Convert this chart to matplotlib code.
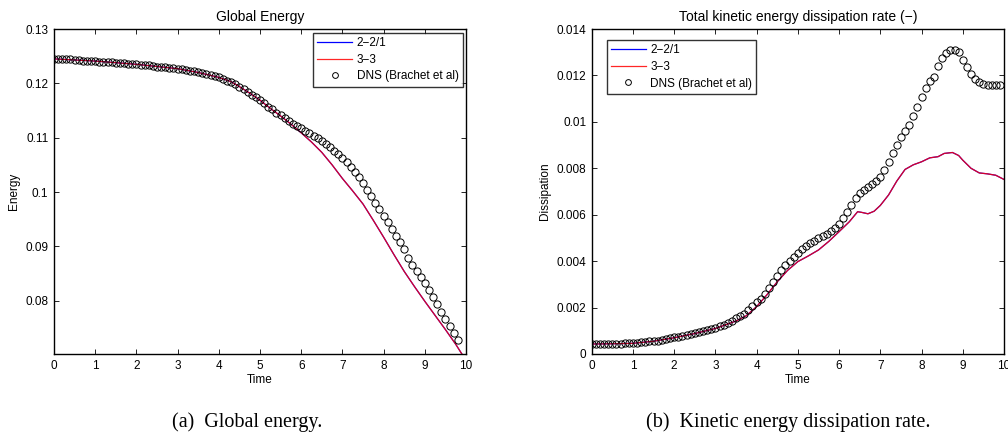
import numpy as np
import matplotlib
matplotlib.use("Agg")
import matplotlib.pyplot as plt

plt.rcParams['font.family'] = ['Liberation Sans', 'DejaVu Sans']

# ---------------- data: (a) global energy ----------------
dns_energy_t = np.round(np.arange(0, 9.85, 0.1), 2)
dns_energy = [
    0.1245, 0.1245, 0.1245, 0.1244, 0.1244, 0.1243, 0.1243, 0.1242, 0.1242, 0.1241,
    0.1241, 0.1240, 0.1240, 0.1239, 0.1239, 0.1238, 0.1238, 0.1237, 0.1236, 0.1236,
    0.1235, 0.1234, 0.1234, 0.1233, 0.1232, 0.1231, 0.1231, 0.1230, 0.1229, 0.1228,
    0.1227, 0.1226, 0.1224, 0.1223, 0.1222, 0.1220, 0.1219, 0.1217, 0.1215, 0.1213,
    0.1211, 0.1208, 0.1205, 0.1202, 0.1198, 0.1194, 0.1189, 0.1184, 0.1179, 0.1174,
    0.1169, 0.1163, 0.1157, 0.1152, 0.1146, 0.1141, 0.1136, 0.1131, 0.1126, 0.1122,
    0.1117, 0.1113, 0.1108, 0.1104, 0.1099, 0.1094, 0.1088, 0.1082, 0.1076, 0.1070,
    0.1063, 0.1055, 0.1046, 0.1037, 0.1027, 0.1016, 0.1004, 0.0992, 0.0980, 0.0968,
    0.0956, 0.0944, 0.0932, 0.0920, 0.0908, 0.0895, 0.0878, 0.0866, 0.0855, 0.0844,
    0.0833, 0.0820, 0.0807, 0.0794, 0.0780, 0.0766, 0.0753, 0.0740, 0.0727,
]
model_energy_t = [0, 0.5, 1, 1.5, 2, 2.5, 3, 3.5, 4, 4.3, 4.5, 4.75, 5, 5.25, 5.5,
                  5.75, 6, 6.25, 6.5, 6.75, 7, 7.25, 7.5, 7.75, 8, 8.25, 8.5, 8.75,
                  9, 9.25, 9.5, 9.75, 9.9]
energy_221 = [0.1245, 0.1243, 0.1241, 0.1238, 0.1235, 0.1231, 0.1227, 0.1220, 0.1211,
              0.1203, 0.1194, 0.1182, 0.1169, 0.1154, 0.1140, 0.1125, 0.1109, 0.1092,
              0.1073, 0.1050, 0.1025, 0.1002, 0.0978, 0.0948, 0.0917, 0.0885, 0.0854,
              0.0826, 0.0799, 0.0773, 0.0747, 0.0720, 0.0702]
energy_33 = list(energy_221)

# ---------------- data: (b) dissipation ----------------
dns_diss_t = np.round(np.arange(0, 9.95, 0.1), 2)
dns_diss = np.array([
    0.43, 0.42, 0.41, 0.42, 0.43, 0.44, 0.45, 0.45, 0.46, 0.46,
    0.47, 0.48, 0.50, 0.52, 0.54, 0.56, 0.58, 0.61, 0.64, 0.68,
    0.72, 0.75, 0.78, 0.82, 0.86, 0.90, 0.95, 0.99, 1.04, 1.09,
    1.14, 1.20, 1.26, 1.33, 1.41, 1.53, 1.63, 1.74, 1.88, 2.05,
    2.22, 2.38, 2.58, 2.85, 3.10, 3.38, 3.62, 3.84, 4.00, 4.20,
    4.36, 4.52, 4.66, 4.78, 4.88, 4.98, 5.08, 5.18, 5.30, 5.44,
    5.60, 5.86, 6.12, 6.42, 6.72, 6.95, 7.08, 7.20, 7.32, 7.45,
    7.62, 7.92, 8.25, 8.65, 9.00, 9.35, 9.60, 9.86, 10.25, 10.65,
    11.05, 11.45, 11.75, 11.95, 12.40, 12.75, 12.98, 13.08, 13.08, 13.02,
    12.68, 12.35, 12.08, 11.85, 11.70, 11.62, 11.60, 11.60, 11.60, 11.60,
]) * 1e-3
model_diss_t = [0, 0.5, 1, 1.5, 2, 2.5, 3, 3.5, 3.75, 4, 4.25, 4.5, 4.75, 5, 5.25,
                5.5, 5.75, 6, 6.25, 6.45, 6.55, 6.7, 6.85, 7, 7.2, 7.4, 7.6, 7.8,
                8, 8.2, 8.4, 8.55, 8.75, 8.9, 9, 9.2, 9.4, 9.6, 9.8, 10]
diss_221 = np.array([0.43, 0.44, 0.46, 0.55, 0.70, 0.88, 1.10, 1.42, 1.65, 2.04,
                     2.55, 3.11, 3.60, 3.98, 4.22, 4.48, 4.85, 5.27, 5.70, 6.13,
                     6.10, 6.04, 6.15, 6.40, 6.85, 7.45, 7.95, 8.15, 8.28, 8.45,
                     8.50, 8.64, 8.68, 8.55, 8.35, 8.00, 7.80, 7.76, 7.70, 7.52]) * 1e-3
diss_33 = diss_221.copy()

labels = ['2\u22122/1', '3\u22123', 'DNS (Brachet et al)']

# ---------------- figure ----------------
W, H = 1008, 437
FS = 8.5
fig = plt.figure(figsize=(W / 100, H / 100), dpi=100)

def px_axes(l, t, r, b):
    return fig.add_axes([l / W, 1 - b / H, (r - l) / W, (b - t) / H])

def style(ax):
    ax.tick_params(direction='in', length=3.5, width=0.6, labelsize=FS,
                   top=True, right=True, pad=4)
    for s in ax.spines.values():
        s.set_linewidth(1.0)
    ax.set_xlim(0, 10)
    ax.set_xticks(range(0, 11))

def make_legend(ax, loc, anchor):
    leg = ax.legend(loc=loc, bbox_to_anchor=anchor, fontsize=FS, handlelength=3.0,
                    handletextpad=0.35, labelspacing=0.4, borderpad=0.35,
                    borderaxespad=0.0, frameon=True, fancybox=False, markerscale=0.8)
    leg.get_frame().set_edgecolor('black')
    leg.get_frame().set_linewidth(1.0)
    return leg

ax1 = px_axes(54, 29, 466, 354)
ax1.plot(model_energy_t, energy_221, color='blue', lw=0.9, label=labels[0])
ax1.plot(model_energy_t, energy_33, color='red', lw=0.9, alpha=0.85, label=labels[1])
ax1.plot(dns_energy_t, dns_energy, ls='none', marker='o', ms=5.2, mfc='none',
         mec='black', mew=0.7, label=labels[2])
style(ax1)
ax1.set_ylim(0.0702, 0.13)
ax1.set_yticks([0.08, 0.09, 0.10, 0.11, 0.12, 0.13])
ax1.set_yticklabels(['0.08', '0.09', '0.1', '0.11', '0.12', '0.13'])
ax1.set_title('Global Energy', fontsize=10, pad=6)
ax1.set_xlabel('Time', fontsize=FS, labelpad=2)
ax1.set_ylabel('Energy', fontsize=FS, labelpad=4)
make_legend(ax1, 'upper right', (0.992, 0.988))

ax2 = px_axes(591.7, 29, 1004, 354)
ax2.plot(model_diss_t, diss_221, color='blue', lw=0.9, label=labels[0])
ax2.plot(model_diss_t, diss_33, color='red', lw=0.9, alpha=0.85, label=labels[1])
ax2.plot(dns_diss_t, dns_diss, ls='none', marker='o', ms=5.2, mfc='none',
         mec='black', mew=0.7, label=labels[2])
style(ax2)
ax2.set_ylim(0, 0.014)
ax2.set_yticks([0, 0.002, 0.004, 0.006, 0.008, 0.01, 0.012, 0.014])
ax2.set_yticklabels(['0', '0.002', '0.004', '0.006', '0.008', '0.01', '0.012', '0.014'])
ax2.set_title('Total kinetic energy dissipation rate (\u2212)', fontsize=10, pad=6)
ax2.set_xlabel('Time', fontsize=FS, labelpad=2)
ax2.set_ylabel('Dissipation', fontsize=FS, labelpad=4)
make_legend(ax2, 'upper left', (0.036, 0.966))

fig.text(247 / W, 1 - 422 / H, '(a)  Global energy.', ha='center', va='center',
         fontsize=14.5, family=['Liberation Serif', 'DejaVu Serif'])
fig.text(788 / W, 1 - 422 / H, '(b)  Kinetic energy dissipation rate.', ha='center',
         va='center', fontsize=14.5, family=['Liberation Serif', 'DejaVu Serif'])

fig.savefig('out.png', dpi=100)
